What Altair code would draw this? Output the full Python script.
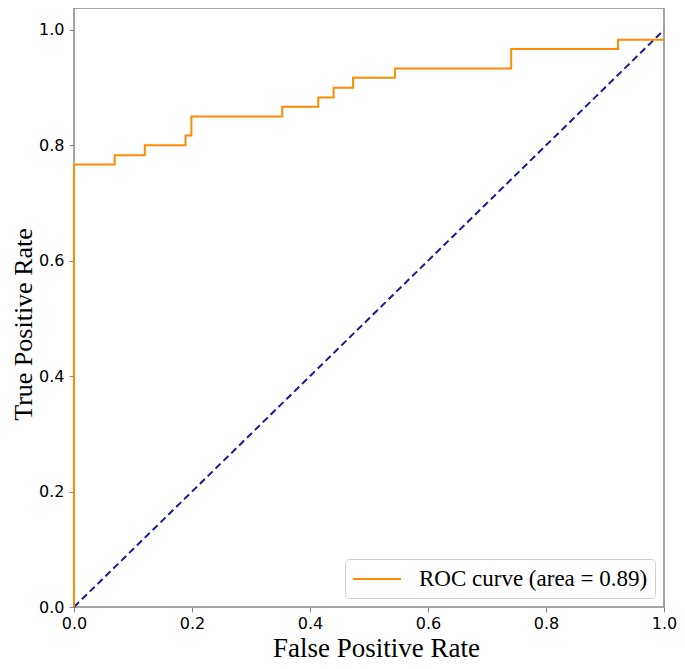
import altair as alt
import pandas as pd

# ROC curve steps
fpr = [0.0, 0.0, 0.069, 0.120, 0.189, 0.199, 0.353, 0.414, 0.440, 0.473, 0.544, 0.741, 0.922, 1.0]
tpr = [0.0, 0.767, 0.783, 0.800, 0.817, 0.850, 0.867, 0.883, 0.900, 0.917, 0.933, 0.967, 0.983, 0.983]
diag_x = [0.0, 1.0]
diag_y = [0.0, 1.0]
label = "ROC curve (area = 0.89)"
ticks = [0.0, 0.2, 0.4, 0.6, 0.8, 1.0]

roc = pd.DataFrame({"fpr": fpr, "tpr": tpr, "series": [label] * len(fpr)})
diag = pd.DataFrame({"fpr": diag_x, "tpr": diag_y})

xscale = alt.Scale(domain=[0, 1], nice=False, zero=False)
yscale = alt.Scale(domain=[0, 1.038], nice=False, zero=False)

xaxis = alt.Axis(values=ticks, format=".1f", title="False Positive Rate", grid=False,
                 domain=False, tickColor="#888", tickSize=5, labelPadding=3, labelFlush=False,
                 labelFont="DejaVu Sans", labelFontSize=16, labelColor="black",
                 titleFont="Liberation Serif", titleFontSize=27, titleFontWeight="normal",
                 titleColor="black", titleBaseline="alphabetic", titleX=302, titleY=49,
                 titleAnchor="middle", titleAlign="center")
yaxis = alt.Axis(values=ticks, format=".1f", title="True Positive Rate", grid=False,
                 domain=False, tickColor="#888", tickSize=5, labelPadding=5, labelFlush=False,
                 labelFont="DejaVu Sans", labelFontSize=16, labelColor="black",
                 titleFont="Liberation Serif", titleFontSize=26, titleFontWeight="normal",
                 titleColor="black", titleAngle=-90, titleBaseline="alphabetic",
                 titleX=-43, titleY=316, titleAlign="center")

roc_line = alt.Chart(roc).mark_line(interpolate="step-after", strokeWidth=2).encode(
    x=alt.X("fpr:Q", scale=xscale, axis=xaxis),
    y=alt.Y("tpr:Q", scale=yscale, axis=yaxis),
    color=alt.Color("series:N",
                    scale=alt.Scale(domain=[label], range=["#FF8C00"]),
                    legend=alt.Legend(title=None, orient="none", legendX=271, legendY=551,
                                      symbolType="M-1,0H3", symbolSize=576, symbolStrokeWidth=2,
                                      labelFont="Liberation Serif", labelFontSize=23,
                                      labelColor="black", labelLimit=500,
                                      fillColor="white", strokeColor="#d0d0d0",
                                      cornerRadius=4, padding=7, labelOffset=41)),
)

diag_line = alt.Chart(diag).mark_line(color="#1a1a9a", strokeWidth=2, strokeDash=[7, 4]).encode(
    x=alt.X("fpr:Q", scale=xscale),
    y=alt.Y("tpr:Q", scale=yscale),
)

chart = (diag_line + roc_line).properties(
    width=590, height=599,
    autosize=alt.AutoSizeParams(type="none"),
    padding={"left": 66, "top": 0, "right": 13, "bottom": 54},
).configure_view(stroke="#888", strokeWidth=1.5)

chart.save("out.html", embed_options={"renderer": "svg", "actions": False})
